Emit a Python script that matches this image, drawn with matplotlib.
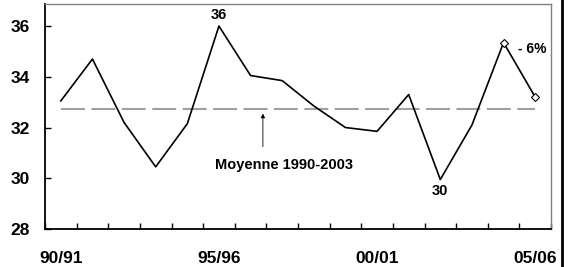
import matplotlib.pyplot as plt
import numpy as np
from matplotlib.lines import Line2D

plt.rcParams['font.family'] = ['Liberation Sans', 'DejaVu Sans']
plt.rcParams['font.weight'] = 'bold'

# campaigns 90/91 .. 05/06
seasons = ['90/91', '91/92', '92/93', '93/94', '94/95', '95/96', '96/97', '97/98',
           '98/99', '99/00', '00/01', '01/02', '02/03', '03/04', '04/05', '05/06']
values = [33.05, 34.7, 32.2, 30.45, 32.15, 36.0, 34.05, 33.85,
          32.85, 32.0, 31.85, 33.3, 29.95, 32.1, 35.35, 33.2]
mean_val = 32.75
shown_labels = ['90/91', '95/96', '00/01', '05/06']

x = np.arange(len(values))

fig = plt.figure(figsize=(5.75, 2.67), dpi=100)
ax = fig.add_axes([45/575, 38/267, 506/575, 225/267])

ax.plot([x[0], x[-1]], [mean_val, mean_val], color='#a0a0a0', lw=1.5,
        dashes=(11.5, 3.1), zorder=1)
ax.plot(x, values, color='black', lw=1.2, zorder=2)
ax.plot(x[-2:], values[-2:], ls='none', marker='D', ms=4.5, mfc='white',
        mec='black', mew=0.8, zorder=3)

ax.set_xlim(-0.5, len(values) - 0.5)
ax.set_ylim(28, 36.87)
ax.set_yticks([28, 30, 32, 34, 36])
ax.tick_params(axis='y', direction='in', length=4, width=1, pad=11, labelsize=12.5)
ax.set_xticks(np.arange(-0.5, len(values), 1))
ax.set_xticklabels([])
ax.tick_params(axis='x', which='major', direction='in', length=4, width=1)
ax.set_xticks([seasons.index(s) for s in shown_labels], minor=True)
ax.set_xticklabels(shown_labels, minor=True)
ax.tick_params(axis='x', which='minor', length=0, pad=16, labelsize=12.5)
for lab in ax.get_yticklabels() + ax.get_xticklabels(minor=True):
    lab.set_fontweight('bold')

for s in ['left', 'bottom']:
    ax.spines[s].set_linewidth(1.3)
    ax.spines[s].set_color('black')
for s in ['top', 'right']:
    ax.spines[s].set_linewidth(1)
    ax.spines[s].set_color('#808080')

i_max = int(np.argmax(values))
i_min = int(np.argmin(values))
ax.annotate('36', (x[i_max], values[i_max]), xytext=(0, 3), textcoords='offset points',
            ha='center', va='bottom', fontsize=10.5, fontweight='bold')
ax.annotate('30', (x[i_min], values[i_min]), xytext=(0, -3), textcoords='offset points',
            ha='center', va='top', fontsize=10.5, fontweight='bold')
ax.text(14.45, 35.1, '- 6%', ha='left', va='center', fontsize=10, fontweight='bold')

ax.annotate('', xy=(6.39, 32.55), xytext=(6.39, 31.25),
            arrowprops=dict(arrowstyle='-|>', color='black', lw=0.6,
                            mutation_scale=6, shrinkA=0, shrinkB=0))
ax.text(7.07, 30.52, 'Moyenne 1990-2003', ha='center', va='center',
        fontsize=10.5, fontweight='bold')

fig.add_artist(Line2D([562/575, 562/575], [0, 1], color='black', lw=2))

fig.savefig('out.png', dpi=100)
